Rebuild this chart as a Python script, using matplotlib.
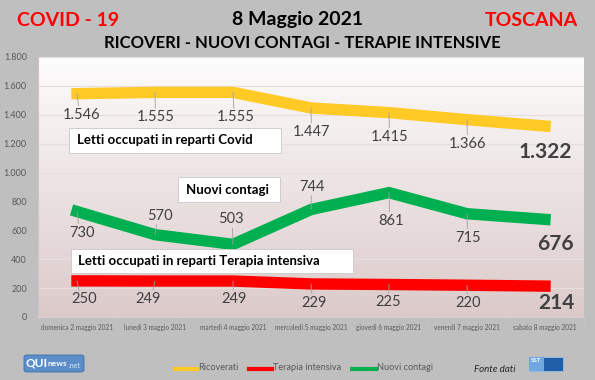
import matplotlib
matplotlib.use("Agg")
import matplotlib.pyplot as plt
import numpy as np
from matplotlib.patches import Rectangle, FancyBboxPatch
from matplotlib.ticker import FuncFormatter

plt.rcParams['font.family'] = ['Lato', 'DejaVu Sans']

categories = ["domenica 2 maggio 2021", "lunedì 3 maggio 2021", "martedì 4 maggio 2021",
              "mercoledì 5 maggio 2021", "giovedì 6 maggio 2021", "venerdì 7 maggio 2021",
              "sabato 8 maggio 2021"]
ricoverati = [1546, 1555, 1555, 1447, 1415, 1366, 1322]
nuovi_contagi = [730, 570, 503, 744, 861, 715, 676]
terapia_intensiva = [250, 249, 249, 229, 225, 220, 214]
y_ticks = [0, 200, 400, 600, 800, 1000, 1200, 1400, 1600, 1800]

W, H = 595, 380
fig = plt.figure(figsize=(W / 100, H / 100), dpi=100)
fig.patch.set_facecolor('#bfbfbf')

def fx(px):
    return px / W

def fy(py):
    return 1 - py / H

ax = fig.add_axes([fx(38), fy(317), (584 - 38) / W, (317 - 57) / H])
ax.set_xlim(-0.5, 6.5)
ax.set_ylim(0, 1800)

# gradient background
top = np.array([253, 252, 252]) / 255
bot = np.array([220, 202, 202]) / 255
t = np.linspace(0, 1, 256)[:, None]
grad = (top * (1 - t) + bot * t)[:, None, :]
ax.imshow(grad, extent=[0, 1, 0, 1], transform=ax.transAxes, aspect='auto', zorder=0)

for s in ['top', 'right']:
    ax.spines[s].set_visible(False)
ax.spines['left'].set_color('#d0c4c4')
ax.spines['bottom'].set_color('#d9d0d0')
ax.set_yticks(y_ticks)
ax.yaxis.set_major_formatter(FuncFormatter(lambda v, p: f"{int(v):,}".replace(",", ".")))
ax.tick_params(axis='y', length=0, labelsize=6.5, labelcolor='#595959', pad=8)
ax.grid(axis='y', color='#e6dede', lw=0.8, zorder=1)
ax.set_axisbelow(True)
x = np.arange(len(categories))
ax.set_xticks(x)
ax.set_xticklabels(categories, fontsize=4.7, color='#595959')
ax.tick_params(axis='x', length=0, pad=5)
ax.set_xticks(np.arange(-0.5, 7, 1), minor=True)
ax.tick_params(axis='x', which='minor', length=4, color='#d0c4c4')

lw = 8.2
series = [
    (ricoverati, '#ffc926',
     [(5, -21), (1, -25), (3, -25), (1, -24), (1, -24), (1, -24), (0, -26)]),
    (nuovi_contagi, '#00b050',
     [(5, -21), (5, 19), (-2, 25), (1, 23), (2, -28), (1, -24), (10, -25)]),
    (terapia_intensiva, '#ff0000',
     [(7, -18), (-7, -18), (1, -18), (3, -19), (-1, -18), (1, -18), (11, -17)]),
]

for vals, col, offs in series:
    ax.plot(x, vals, color=col, lw=lw, solid_capstyle='projecting',
            solid_joinstyle='miter', zorder=3)
    for i, (v, (dx, dy)) in enumerate(zip(vals, offs)):
        last = i == len(vals) - 1
        lab = f"{v:,}".replace(",", ".")
        ax.annotate(lab, (x[i], v), xytext=(dx, dy), textcoords='offset pixels',
                    ha='center', va='center',
                    fontsize=15 if last else 10.5,
                    fontweight='bold' if last else 'normal',
                    color='#404040', zorder=5)
        if not last:
            sgn = 1 if dy > 0 else -1
            ax.annotate('', (x[i], v), xytext=(dx * 0.3, dy - sgn * 9),
                        textcoords='offset pixels',
                        arrowprops=dict(arrowstyle='-', color='#a0a0a0', lw=0.6,
                                        shrinkA=0, shrinkB=0), zorder=4)

# white label boxes
def box(x0, y0, x1, y1, text, tx):
    fig.patches.append(Rectangle((fx(x0), fy(y1)), fx(x1 - x0), (y1 - y0) / H,
                                 transform=fig.transFigure, facecolor='white',
                                 edgecolor='#c8c8c8', lw=0.6, zorder=6))
    fig.text(fx(tx), fy((y0 + y1) / 2), text, ha='left', va='center', fontsize=9.5,
             fontweight='bold', color='black', zorder=7)

box(69, 128, 281, 153, "Letti occupati in reparti Covid", 77)
box(178, 177, 280, 202, "Nuovi contagi", 186)
box(71, 249, 353, 273, "Letti occupati in reparti Terapia intensiva", 78)

# titles
fig.text(fx(17), fy(20), "COVID - 19", color='#ff0000', fontsize=14, fontweight='bold',
         ha='left', va='center')
fig.text(fx(298), fy(19), "8 Maggio 2021", color='black', fontsize=14, fontweight='bold',
         ha='center', va='center')
fig.text(fx(578), fy(21), "TOSCANA", color='#ff0000', fontsize=14, fontweight='bold',
         ha='right', va='center')
fig.text(fx(302), fy(43), "RICOVERI - NUOVI CONTAGI - TERAPIE INTENSIVE", color='black',
         fontsize=12, fontweight='bold', ha='center', va='center')

# legend
leg = [("Ricoverati", '#ffc926', 175, 197), ("Terapia intensiva", '#ff0000', 249, 272),
       ("Nuovi contagi", '#00b050', 352, 376)]
for name, col, x0, x1 in leg:
    fig.add_artist(plt.Line2D([fx(x0), fx(x1)], [fy(369), fy(369)], color=col, lw=3,
                              transform=fig.transFigure))
    fig.text(fx(x1 + 1), fy(368), name, fontsize=6.6, color='#595959', ha='left', va='center')

fig.text(fx(474), fy(370), "Fonte dati", fontsize=7, style='italic', color='#262626',
         ha='left', va='center')

# logos
fig.patches.append(FancyBboxPatch((fx(24), fy(372)), fx(60), 17 / H,
                                  boxstyle='round,pad=0,rounding_size=0.005',
                                  transform=fig.transFigure, facecolor='#5b8ec9',
                                  edgecolor='#3f6ea8', lw=0.6))
fig.text(fx(26), fy(363.5), "QUI", fontsize=8.5, fontweight='bold', color='white',
         ha='left', va='center')
fig.text(fx(48), fy(364), "news", fontsize=6, fontweight='bold', color='white',
         ha='left', va='center')
fig.text(fx(69), fy(365), ".net", fontsize=5, color='#dfe9f5', ha='left', va='center')

fig.patches.append(Rectangle((fx(529), fy(371)), fx(34), 14 / H,
                             transform=fig.transFigure, facecolor='#1f5fa8',
                             edgecolor='#9cc0e8', lw=0.6))
fig.patches.append(Rectangle((fx(529), fy(371)), fx(15), 14 / H,
                             transform=fig.transFigure, facecolor='#6fa8e0',
                             edgecolor='none'))
fig.text(fx(536), fy(360), "SST", fontsize=4.5, fontweight='bold', color='white',
         ha='center', va='center')

fig.savefig("out.png", dpi=100, facecolor=fig.get_facecolor())
